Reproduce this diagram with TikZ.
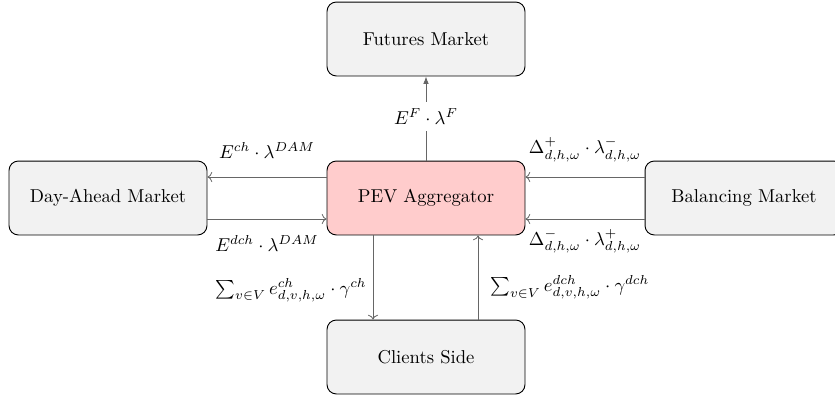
\documentclass[tikz,border=0pt]{standalone}
\usetikzlibrary{calc,arrows.meta}
\begin{document}
\begin{tikzpicture}[x=0.537pt,y=-0.537pt,
  box/.style={draw=black, line width=0.5pt, rounded corners=5pt, fill=black!5,
    minimum width=106.3pt, minimum height=39.7pt, inner sep=0pt},
  flow/.style={draw=black!60, line width=0.45pt, ->},
  lbl/.style={inner sep=0pt}]
\useasboundingbox (0,0) rectangle (835,400);
\node[box] (FM) at (426,39) {Futures Market};
\node[box, fill=red!20] (PEV) at (426,198) {PEV Aggregator};
\node[box] (DAM) at (108,198) {Day-Ahead Market};
\node[box] (BM) at (744,198) {Balancing Market};
\node[box] (CS) at (426,357) {Clients Side};

% futures
\draw[flow, -{Latex[length=4pt,width=3pt]}] (PEV) -- node[pos=0.52, fill=white, inner sep=3.5pt] {$E^F\cdot\lambda^F$} (FM);

% day-ahead
\draw[flow] ($(PEV.west)+(0,-21)$) -- node[lbl, midway, anchor=base, yshift=10.2pt] {$E^{ch}\cdot\lambda^{DAM}$} ($(DAM.east)+(0,-21)$);
\draw[flow] ($(DAM.east)+(0,21)$) -- node[lbl, midway, anchor=base, yshift=-17.2pt] {$E^{dch}\cdot\lambda^{DAM}$} ($(PEV.west)+(0,21)$);

% balancing
\draw[flow] ($(BM.west)+(0,-21)$) -- node[lbl, midway, anchor=base, yshift=12.4pt] {$\Delta^{+}_{d,h,\omega}\cdot\lambda^{-}_{d,h,\omega}$} ($(PEV.east)+(0,-21)$);
\draw[flow] ($(BM.west)+(0,21)$) -- node[lbl, midway, anchor=base, yshift=-14pt] {$\Delta^{-}_{d,h,\omega}\cdot\lambda^{+}_{d,h,\omega}$} ($(PEV.east)+(0,21)$);

% clients
\draw[flow] ($(PEV.south)+(-53,0)$) -- node[lbl, pos=0.65, anchor=east, xshift=-3.2pt] {$\sum_{v\in V} e^{ch}_{d,v,h,\omega}\cdot\gamma^{ch}$} ($(CS.north)+(-53,0)$);
\draw[flow] ($(CS.north)+(52,0)$) -- node[lbl, pos=0.38, anchor=west, xshift=6.4pt] {$\sum_{v\in V} e^{dch}_{d,v,h,\omega}\cdot\gamma^{dch}$} ($(PEV.south)+(52,0)$);
\end{tikzpicture}
\end{document}
